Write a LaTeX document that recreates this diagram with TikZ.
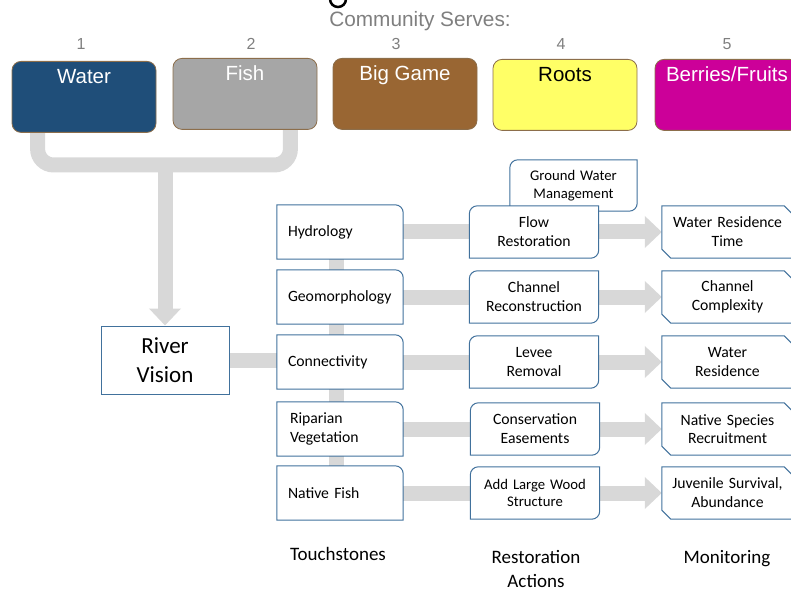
\documentclass[tikz,border=0pt]{standalone}
\usepackage{fontspec}
\setmainfont{Carlito}
\newfontfamily\arialfont{Liberation Sans}
\usetikzlibrary{arrows.meta,backgrounds,positioning}

\definecolor{boxblue}{RGB}{65,113,156}
\definecolor{flowgray}{RGB}{216,216,216}
\definecolor{servegray}{RGB}{127,127,127}
\definecolor{serveline}{RGB}{140,110,75}
\definecolor{waterblue}{RGB}{31,78,121}
\definecolor{fishgray}{RGB}{166,166,166}
\definecolor{gamebrown}{RGB}{153,102,51}
\definecolor{rootyellow}{RGB}{255,255,102}
\definecolor{berrypink}{RGB}{204,0,153}

\tikzset{
  servebox/.style={draw=serveline, line width=0.8pt, rounded corners=9pt, anchor=north,
    minimum width=144pt, inner ysep=3pt, text height=19pt, text depth=46pt,
    font=\arialfont\fontsize{20.5}{24}\selectfont},
  flow/.style={draw=flowgray, line width=15pt},
  flowarrow/.style={flow, -{Triangle[width=31pt,length=17pt]}},
  boxline/.style={draw=boxblue, line width=1pt},
  tsbox/.style={fill=white, minimum width=126pt, minimum height=54pt, text width=104pt,
    inner xsep=11pt, align=left, font=\fontsize{15.7}{19}\selectfont},
  rabox/.style={fill=white, minimum width=129pt, minimum height=52pt, text width=125pt,
    inner xsep=2pt, align=center, font=\fontsize{15.7}{19}\selectfont},
  mobox/.style={fill=white, minimum width=131pt, minimum height=52pt, text width=127pt,
    inner xsep=2pt, align=center, font=\fontsize{15.7}{19}\selectfont},
  colhead/.style={font=\fontsize{19}{24}\selectfont, align=center},
}

\begin{document}
\begin{tikzpicture}[x=1pt,y=-1pt]
  \useasboundingbox (0,0) rectangle (791,593);

  % cut-off title
  \draw[line width=2.5pt] (330,-1) arc[start angle=180, end angle=0, radius=8];

  \node[font=\arialfont\fontsize{20.8}{24}\selectfont, text=servegray, anchor=base] (serves) at (420,27) {Community Serves:};
  \foreach \i/\x in {1/81,2/251,3/396,4/561,5/727}
    \node[font=\arialfont\fontsize{16}{19}\selectfont, text=servegray, anchor=base] (num\i) at (\x,50) {\i};

  \foreach \n/\x/\y/\c/\t/\lbl in {water/84/61/waterblue/white/Water, fish/245/58/fishgray/white/Fish,
      game/405/58/gamebrown/white/Big Game, roots/565/59/rootyellow/black/Roots,
      berries/727/59/berrypink/white/{Berries/Fruits}}
    \node[servebox, fill=\c, text=\t] (\n) at (\x,\y) {\lbl};

  \node[draw=boxblue, line width=1pt, minimum width=128pt, minimum height=68pt, align=center,
    font=\fontsize{23}{29}\selectfont] (river) at (165,360) {River\\Vision};

  % ground water sits behind flow restoration
  \node[rabox, minimum width=127pt, minimum height=51pt, text width=123pt,
    font=\fontsize{14.7}{18}\selectfont] (gw) at (573.5,185.5) {Ground Water\\Management};
  \draw[boxline] (gw.west) [rounded corners=8pt] -- (gw.north west) -- (gw.north) [sharp corners] -- (gw.north east)
    -- (gw.east) [rounded corners=8pt] -- (gw.south east) -- (gw.south) [sharp corners] -- (gw.south west) -- cycle;

  % touchstones
  \node[tsbox] (hyd) at (340,232) {Hydrology};
  \node[tsbox] (geo) at (340,297) {Geomorphology};
  \node[tsbox] (con) at (340,362) {Connectivity};
  \node[tsbox] (rip) at (340,429) {\hspace*{2pt}Riparian\\\hspace*{2pt}Vegetation};
  \node[tsbox] (nfi) at (340,493) {Native Fish};

  % restoration actions
  \node[rabox] (flo) at (534,232) {Flow\\Restoration};
  \node[rabox] (chr) at (534,297) {Channel\\Reconstruction};
  \node[rabox] (lev) at (534,362) {Levee\\Removal};
  \node[rabox] (cons) at (535,429) {Conservation\\Easements};
  \node[rabox, font=\fontsize{14.7}{17}\selectfont] (wood) at (535,493) {Add Large Wood\\Structure};

  % monitoring
  \node[mobox] (wrt) at (727.5,232) {Water Residence\\Time};
  \node[mobox] (chc) at (727.5,297) {Channel\\Complexity};
  \node[mobox] (wres) at (727.5,362) {Water\\Residence};
  \node[mobox, font=\fontsize{15.7}{18}\selectfont] (nsr) at (727.5,429) {Native Species\\Recruitment};
  \node[mobox] (juv) at (727.5,493) {Juvenile Survival,\\Abundance};

  \foreach \n in {hyd,geo,con,rip,nfi}
    \draw[boxline] (\n.north) [rounded corners=8pt] -- (\n.north east) -- (\n.east) [sharp corners]
      -- (\n.south east) -- (\n.south west) -- (\n.north west) -- cycle;
  \foreach \n in {flo,chr,lev,cons,wood}
    \draw[boxline] (\n.west) [rounded corners=8pt] -- (\n.north west) -- (\n.north) [sharp corners] -- (\n.north east)
      -- (\n.east) [rounded corners=8pt] -- (\n.south east) -- (\n.south) [sharp corners] -- (\n.south west) -- cycle;
  \foreach \n in {wrt,chc,wres,nsr,juv}
    \draw[boxline] (\n.north west) -- ([xshift=-9pt]\n.north east) -- ([yshift=-9pt]\n.north east)
      -- (\n.south east) -- ([xshift=9pt]\n.south west) -- ([yshift=9pt]\n.south west) -- cycle;

  \node[colhead, anchor=base] (tslabel) at (338,560) {Touchstones};
  \node[colhead] (ralabel) at (536,569) {Restoration\\Actions};
  \node[colhead, anchor=base] (molabel) at (727,563) {Monitoring};

  \begin{scope}[on background layer]
    \coordinate (join) at (165,165);
    \draw[flow, rounded corners=16pt] ([xshift=26pt]water.south west) |- (join) -| ([xshift=-27pt]fish.south east);
    \draw[flowarrow] (join) -- (river.north);
    \draw[flow] (river.east) -- (river.east -| con.west);
    \draw[flow] ([xshift=-4pt]hyd.south) -- ([xshift=-4pt]nfi.north);
    \foreach \a/\b/\c in {hyd/flo/wrt, geo/chr/chc, con/lev/wres, rip/cons/nsr, nfi/wood/juv} {
      \draw[flow] (\a) -- (\b);
      \draw[flowarrow] (\b) -- (\c);
    }
  \end{scope}
\end{tikzpicture}
\end{document}
